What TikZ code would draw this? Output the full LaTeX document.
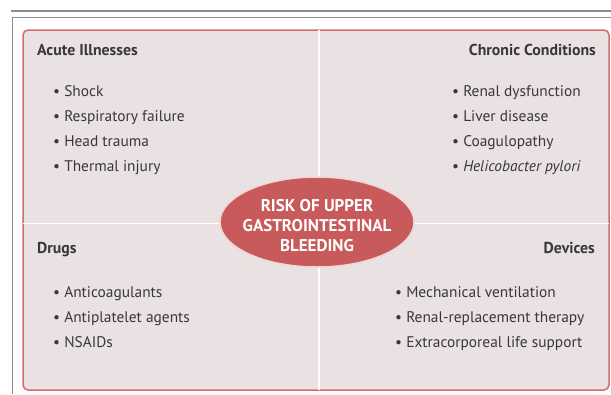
\documentclass[tikz,border=0pt]{standalone}
\usepackage{fontspec}
\setmainfont{PT Sans}
\usepackage{tikz}
\usetikzlibrary{positioning}
\usetikzlibrary{shapes.geometric}

\definecolor{panelfill}{HTML}{E9E1E2}
\definecolor{paneledge}{HTML}{D66B6C}
\definecolor{riskred}{HTML}{C85A5B}
\definecolor{textgray}{HTML}{383838}
\definecolor{rulegray}{HTML}{8E8E8E}

\tikzset{
    heading/.style={font=\fontsize{15.8}{18}\selectfont\bfseries, text=textgray, inner sep=0pt},
    bullet/.style={font=\fontsize{15.4}{18}\selectfont, text=textgray, inner sep=0pt, anchor=base west},
    divider/.style={white, line width=1.6pt},
}

\begin{document}
\begin{tikzpicture}[x=1pt,y=-1pt]
        \useasboundingbox (0,0) rectangle (611,394);
        \draw[rulegray, line width=2.4pt] (11,11) -- (611,11);
        \draw[rulegray, line width=0.8pt] (611,17) -- (12,17) -- (12,394);
        \node[draw=paneledge, fill=panelfill, line width=1.5pt, rounded corners=5pt,
            minimum width=586pt, minimum height=360pt, inner sep=0pt] (panel) at (316,210) {};
        \coordinate (mid) at (319,223.5);
        \draw[divider] ([yshift=-1pt]mid |- panel.north) -- ([yshift=1pt]mid |- panel.south);
        \draw[divider] ([xshift=1pt]panel.west |- mid) -- ([xshift=-1pt]panel.east |- mid);
        \node[ellipse, draw=white!75!riskred, line width=1.5pt, fill=riskred,
            minimum width=194pt, minimum height=90pt, inner sep=0pt] (risk) at (317,222) {};
        \node[text=white, align=center, inner sep=0pt,
            font=\fontsize{17}{20}\selectfont\bfseries] (risktext) at ([yshift=-4pt]risk.center)
            {RISK OF UPPER\\GASTROINTESTINAL\\BLEEDING};
        \node[heading, anchor=base west] (acute) at (37,55) {Acute Illnesses};
        \node[heading, anchor=base east] (chronic) at (596,55) {Chronic Conditions};
        \node[heading, anchor=base west] (drugs) at (37,253) {Drugs};
        \node[heading, anchor=base east] (devices) at (595,253) {Devices};
        \foreach \t [count=\i] in {Shock, Respiratory failure, Head trauma, Thermal injury}
            \node[bullet] (acute\i) at (53,71+25*\i) {\textbullet\ \t};
        \foreach \t [count=\i] in {Renal dysfunction, Liver disease, Coagulopathy, \textit{Helicobacter pylori}}
            \node[bullet] (chronic\i) at (452,71+25*\i) {\textbullet\ \t};
        \foreach \t [count=\i] in {Anticoagulants, Antiplatelet agents, NSAIDs}
            \node[bullet] (drugs\i) at (53,272+25*\i) {\textbullet\ \t};
        \foreach \t [count=\i] in {Mechanical ventilation, Renal-replacement therapy, Extracorporeal life support}
            \node[bullet] (devices\i) at (395,272+25*\i) {\textbullet\ \t};
    \end{tikzpicture}
\end{document}
